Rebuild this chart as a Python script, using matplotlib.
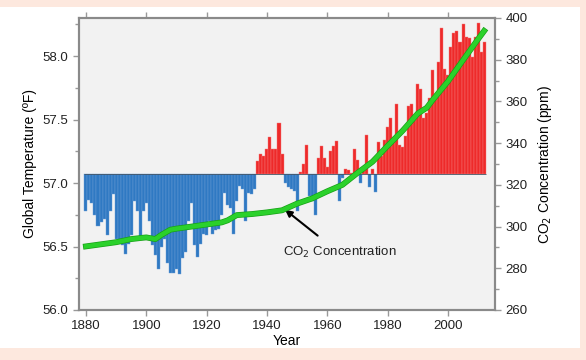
import numpy as np
import matplotlib.pyplot as plt
import matplotlib.patheffects as pe
from matplotlib.patches import Rectangle

plt.rcParams['font.family'] = ['Liberation Sans', 'DejaVu Sans']

# annual global temperature (deg F), 1880-2012
years = np.arange(1880, 2013)
temps = [
    56.78, 56.87, 56.84, 56.75, 56.66, 56.69, 56.72, 56.59, 56.78, 56.91,
    56.56, 56.54, 56.51, 56.44, 56.52, 56.59, 56.86, 56.78, 56.56, 56.78,
    56.84, 56.70, 56.51, 56.43, 56.32, 56.50, 56.56, 56.37, 56.29, 56.29,
    56.32, 56.28, 56.41, 56.46, 56.70, 56.84, 56.51, 56.42, 56.52, 56.60,
    56.59, 56.70, 56.60, 56.63, 56.64, 56.75, 56.92, 56.83, 56.80, 56.60,
    56.86, 56.98, 56.95, 56.70, 56.92, 56.91, 56.95, 57.17, 57.23, 57.21,
    57.27, 57.36, 57.27, 57.27, 57.47, 57.23, 57.00, 56.97, 56.95, 56.94,
    56.78, 57.09, 57.15, 57.30, 56.90, 56.86, 56.75, 57.20, 57.29, 57.20,
    57.13, 57.25, 57.29, 57.33, 56.86, 57.04, 57.11, 57.10, 57.08, 57.27,
    57.18, 57.00, 57.12, 57.38, 56.97, 57.11, 56.93, 57.32, 57.21, 57.34,
    57.44, 57.51, 57.32, 57.62, 57.30, 57.28, 57.37, 57.61, 57.62, 57.50,
    57.78, 57.74, 57.51, 57.55, 57.67, 57.89, 57.70, 57.95, 58.22, 57.90,
    57.85, 58.07, 58.18, 58.20, 58.11, 58.25, 58.15, 58.14, 57.99, 58.15,
    58.26, 58.03, 58.11,
]
base = 57.07

# CO2 concentration (ppm)
co2_years = [1880, 1885, 1890, 1895, 1898, 1900, 1903, 1905, 1908, 1910,
             1915, 1920, 1925, 1927, 1930, 1935, 1940, 1945, 1950, 1955,
             1960, 1965, 1970, 1975, 1980, 1985, 1990, 1993, 1995, 2000,
             2005, 2010, 2012]
co2 = [290.5, 291.5, 292.5, 294.0, 294.5, 294.8, 294.0, 296.0, 298.5, 299.0,
       300.0, 301.0, 302.0, 303.0, 305.5, 306.0, 306.8, 307.8, 311.0, 313.5,
       316.9, 320.0, 325.7, 331.1, 338.7, 346.0, 354.2, 357.0, 360.8, 369.6,
       379.8, 389.9, 393.8]

fig = plt.figure(figsize=(5.86, 3.60), dpi=100, facecolor='#fde8de')
fig.patches.append(Rectangle((0, 12 / 360), 580 / 586, 341 / 360,
                             transform=fig.transFigure, facecolor='white',
                             edgecolor='none', zorder=-1))

ax = fig.add_axes([79 / 586, 50 / 360, 416 / 586, 292 / 360])
ax.set_facecolor('#f2f2f2')

t = np.array(temps)
cols = np.where(t >= base, '#ee2a2a', '#2f79c3')
edges = np.where(t >= base, '#f47a7a', '#6c9fd6')
ax.bar(years, t - base, bottom=base, width=1.0, color=cols,
       edgecolor=edges, linewidth=0.3, zorder=2)
ax.hlines(base, 1879.5, 2012.5, color='#445566', lw=0.6, zorder=3)

ax.set_xlim(1877.7, 2015.6)
ax.set_ylim(56.0, 58.3)
ax.set_xticks(range(1880, 2001, 20))
ax.set_yticks([56.0, 56.5, 57.0, 57.5, 58.0])
ax.set_yticks(np.arange(56.25, 58.3, 0.5), minor=True)
ax.yaxis.set_major_formatter(plt.FormatStrFormatter('%.1f'))
ax.tick_params(axis='both', direction='out', color='#999999', labelsize=9.5,
               length=4, width=1, labelcolor='#222222')
ax.tick_params(axis='y', which='minor', direction='out', color='#999999',
               length=3, width=1)
ax.tick_params(axis='x', top=True)
for s in ax.spines.values():
    s.set_color('#8a8a8a')
    s.set_linewidth(1.5)
ax.set_xlabel('Year', fontsize=10, labelpad=1)
ax.set_ylabel('Global Temperature (ºF)', fontsize=10, labelpad=4)

ax2 = ax.twinx()
ax2.plot(co2_years, co2, color='#2bd12b', lw=3.2, zorder=4,
         path_effects=[pe.Stroke(linewidth=4.2, foreground='#17a017'), pe.Normal()])
ax2.set_ylim(260, 400)
ax2.set_yticks(range(260, 401, 20))
ax2.set_yticks(range(270, 400, 20), minor=True)
ax2.tick_params(axis='y', direction='out', color='#999999', labelsize=9.5,
                length=4, width=1, labelcolor='#222222')
ax2.tick_params(axis='y', which='minor', direction='out', color='#999999',
                length=3, width=1)
for s in ax2.spines.values():
    s.set_color('#8a8a8a')
    s.set_linewidth(1.5)
ax2.set_ylabel('CO$_2$ Concentration (ppm)', fontsize=10, labelpad=6)

ax.annotate('CO$_2$ Concentration', xy=(1946, 56.79), xytext=(1964, 56.45),
            ha='center', va='center', fontsize=9.5, color='#222222',
            arrowprops=dict(arrowstyle='-|>', color='black', lw=1.5,
                            shrinkA=8, shrinkB=0, mutation_scale=10),
            zorder=6)

fig.savefig('out.png', dpi=100, facecolor=fig.get_facecolor())
